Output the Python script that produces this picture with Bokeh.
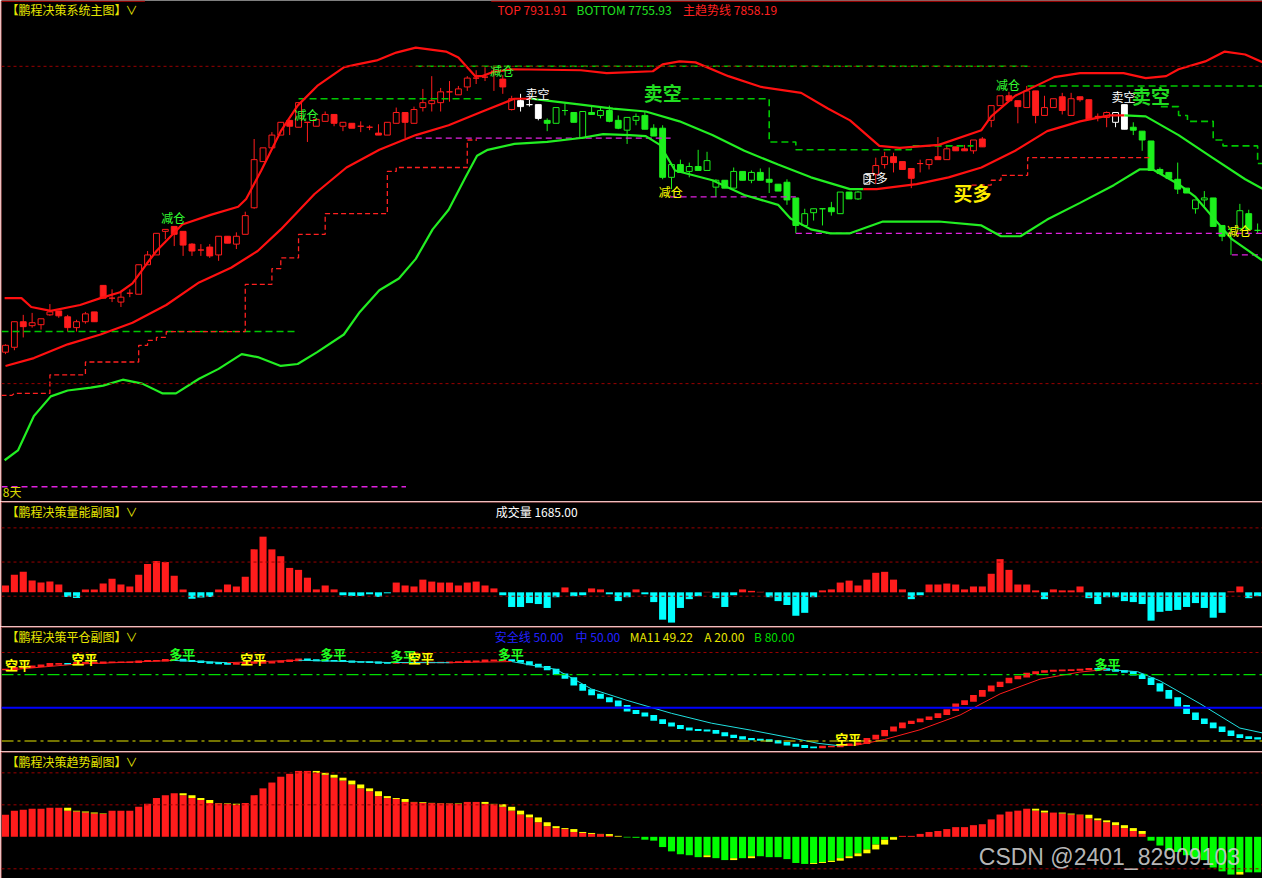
from bokeh.plotting import figure
from bokeh.layouts import column
from bokeh.models import Range1d, Span, Label
from bokeh.embed import file_html
from bokeh.resources import INLINE

# ---------------- data ----------------
N = 142
IDX = list(range(N))

O = [7642,7647,7673,7669,7670,7680,7684,7678,7667,7673,
     7683,7710,7697,7693,7702,7701,7731,7741,7765,7770,
     7765,7752,7746,7749,7741,7760,7752,7762,7789,7836,
     7850,7863,7878,7871,7876,7872,7877,7884,7872,7875,
     7872,7871,7865,7863,7875,7886,7875,7891,7895,7896,
     7907,7904,7912,7921,7922,7928,7920,7889,7898,7894,
     7894,7878,7875,7888,7886,7860,7886,7883,7888,7878,
     7868,7878,7883,7870,7870,7820,7833,7826,7831,7827,
     7810,7817,7809,7826,7817,7825,7818,7813,7815,7799,
     7771,7784,7788,7789,7783,7805,7798,7813,7823,7833,
     7841,7836,7829,7834,7833,7841,7838,7851,7849,7847,
     7859,7878,7893,7903,7898,7891,7908,7883,7891,7902,
     7883,7902,7899,7882,7881,7876,7894,7871,7867,7857,
     7828,7825,7818,7809,7788,7797,7799,7771,7767,7768,
     7783,7766]
H = [7650,7673,7680,7682,7676,7691,7684,7680,7675,7683,
     7683,7710,7706,7703,7706,7731,7745,7763,7767,7770,
     7765,7753,7752,7752,7760,7760,7764,7785,7859,7850,
     7866,7876,7878,7896,7876,7879,7887,7884,7876,7875,
     7877,7873,7874,7876,7891,7886,7892,7910,7923,7911,
     7918,7913,7923,7929,7932,7932,7924,7903,7905,7902,
     7894,7880,7891,7895,7886,7887,7893,7892,7893,7883,
     7881,7885,7887,7874,7873,7833,7838,7835,7848,7846,
     7818,7817,7830,7826,7827,7829,7830,7813,7818,7799,
     7788,7788,7788,7795,7805,7805,7806,7823,7840,7846,
     7845,7836,7829,7838,7838,7861,7853,7851,7853,7858,
     7861,7893,7903,7907,7898,7913,7908,7903,7900,7906,
     7906,7902,7899,7885,7887,7886,7894,7876,7867,7857,
     7830,7825,7835,7809,7797,7806,7799,7771,7767,7793,
     7787,7773]
L = [7640,7644,7657,7667,7665,7679,7677,7663,7663,7671,
     7673,7697,7693,7688,7698,7701,7731,7741,7757,7750,
     7740,7740,7740,7738,7735,7753,7747,7762,7788,7836,
     7850,7863,7863,7871,7856,7872,7877,7872,7867,7870,
     7866,7868,7863,7863,7875,7860,7875,7887,7887,7887,
     7897,7904,7908,7915,7918,7908,7905,7888,7887,7892,
     7878,7867,7875,7883,7876,7859,7884,7880,7876,7869,
     7854,7873,7869,7862,7818,7808,7825,7820,7827,7827,
     7800,7809,7809,7817,7814,7817,7804,7806,7792,7763,
     7771,7776,7771,7781,7783,7798,7797,7813,7813,7829,
     7825,7828,7809,7825,7828,7838,7838,7847,7847,7844,
     7851,7871,7893,7898,7875,7891,7875,7883,7891,7884,
     7883,7897,7879,7877,7871,7871,7869,7863,7847,7827,
     7824,7819,7803,7804,7783,7789,7770,7755,7741,7768,
     7767,7763]
C = [7649,7673,7668,7672,7676,7683,7679,7667,7673,7681,
     7673,7697,7697,7698,7702,7731,7741,7763,7767,7762,
     7751,7745,7746,7740,7760,7753,7760,7781,7838,7850,
     7863,7876,7872,7896,7876,7879,7884,7875,7876,7870,
     7872,7871,7863,7876,7886,7876,7889,7896,7898,7907,
     7907,7910,7921,7921,7922,7928,7912,7900,7892,7894,
     7880,7875,7891,7888,7876,7887,7884,7888,7877,7870,
     7881,7882,7869,7862,7820,7833,7825,7831,7827,7837,
     7817,7809,7826,7817,7825,7817,7815,7806,7797,7771,
     7783,7788,7788,7785,7805,7798,7805,7823,7832,7841,
     7835,7828,7819,7834,7838,7838,7849,7847,7847,7858,
     7851,7893,7903,7898,7892,7908,7883,7891,7900,7888,
     7900,7899,7879,7882,7886,7886,7869,7868,7858,7827,
     7824,7819,7808,7804,7797,7799,7770,7760,7767,7786,
     7767,7766]
# candle state: r = long trend, g = short trend, w = signal bar
CANDLE_STATE = "r" * 58 + "w" * 3 + "g" * 36 + "w" + "r" * 27 + "w" * 2 + "g" * 15

UB_X = [-0.1,1.8,2.9,5.1,8.4,10.7,12.9,14.3,15.9,17,19.9,23.2,26.2,27.1,28.8,31,32.9,35.1,38.1,39.6,
        41.8,44,46.2,49.6,51,52.9,53.7,54.8,57,64.8,67.7,72.9,74,75.9,77.7,81.4,85.1,89.6,92.6,95.1,
        98.4,100.7,105.1,109.9,111,113.7,118.1,121,125.9,128.4,130.7,132.1,135.1,137.3,139.6,141.6]
UB_Y = [7697,7697,7688,7684,7690,7697,7703,7712,7732,7745,7772,7782,7790,7798,7827,7867,7893,7913,7932,7935,
        7939,7947,7952,7948,7942,7923,7923,7927,7930,7929,7926,7928,7935,7938,7937,7923,7912,7906,7890,7878,
        7852,7850,7853,7868,7882,7903,7922,7926,7926,7921,7923,7930,7938,7948,7945,7937]

MID_X = [0,3.2,7,10.7,14.3,18.1,21.8,25.4,28.4,31,34.8,38.4,42.1,46.2,49.9,53.7,57.3,59.2,61,64.8,
         68.4,72.1,75.9,79.6,83.2,87,90.7,95.1,96.6,98.1,102.6,106.2,109.9,113.7,117.3,121,124.3,126,128.4,132.1,
         135.9,139.6,141.6]
MID_Y = [7628,7636,7650,7660,7672,7690,7713,7728,7745,7767,7803,7830,7848,7863,7873,7887,7900,7900,7898,7894,
         7890,7887,7877,7863,7847,7833,7820,7808,7808,7808,7813,7820,7830,7847,7867,7877,7883,7883,7882,7863,
         7840,7818,7808]
MID_STATE = ["r"] * 17 + ["g"] * 11 + ["r"] * 9 + ["g"] * 6

LB_X = [-0.1,1.4,3.2,5.1,7,9.6,11,13.2,15.4,17.7,19.2,21.8,24,26.6,28.4,31,32.9,35.1,38.1,39.9,
        42.1,44.3,46.2,48.1,49.9,51.8,53.1,54.3,57.3,61,64.8,67.3,70.3,72.1,73.7,75.4,79.6,83.2,87,88.4,
        90.7,92.9,95.1,98.8,105.1,109.9,112.1,114.3,117.3,121,124.8,127.7,129.2,132.1,134,135.9,138.1,141.6]
LB_Y = [7532,7542,7577,7597,7603,7606,7608,7614,7610,7600,7600,7615,7625,7640,7637,7628,7630,7642,7660,7683,
        7705,7717,7737,7767,7787,7820,7842,7848,7854,7856,7860,7864,7863,7862,7853,7827,7817,7802,7792,7778,
        7767,7763,7763,7775,7775,7771,7760,7760,7777,7794,7812,7828,7828,7813,7800,7780,7757,7735]

GREEN_STEPS = [
    ([-0.45, 33], [7663, 7663]),
    ([33, 54], [7900, 7900]),
    ([46.2, 115.1], [7933, 7933]),
    ([74.9, 86, 86, 89, 89, 102, 102, 109], [7900, 7900, 7856, 7856, 7848, 7848, 7852, 7852]),
    ([115.1, 141.55], [7913, 7913]),
    ([130.1, 132.1, 132.1, 133.1, 133.1, 136, 136, 137.1, 137.1, 141, 141, 141.55],
     [7892, 7892, 7883, 7883, 7877, 7877, 7858, 7858, 7852, 7852, 7834, 7834]),
]
RED_STEPS = [
    ([-0.45, 0.7, 1, 5, 5, 9, 9, 15, 15, 16, 16, 17, 17, 18.1, 18.1, 27, 27, 30, 30, 31,
      31, 33, 33, 36, 36, 43, 43, 44, 44, 52, 52, 53.1],
     [7598, 7598, 7600, 7600, 7619, 7619, 7632, 7632, 7649, 7649, 7654, 7654, 7657, 7657, 7663, 7663, 7711, 7711, 7727, 7727,
      7738, 7738, 7762, 7762, 7783, 7783, 7826, 7826, 7830, 7830, 7858, 7858]),
    ([108.8, 111, 111, 112.1, 112.1, 115.1, 115.1, 129], [7812, 7812, 7817, 7817, 7822, 7822, 7840, 7840]),
]
MAGENTA_STEPS = [
    ([46.2, 74.9], [7860, 7860]),
    ([74.9, 89], [7800, 7800]),
    ([89, 141.55], [7763, 7763]),
    ([138.1, 141.55], [7741, 7741]),
    ([-0.45, 45.1], [7505, 7505]),
]
MAIN_GRID = [7933, 7610]

SIGNALS = [  # text, bar, price, color, size, bold
    ("减仓", 18.9, 7779, "#33ff33", 12, False),
    ("减仓", 33.9, 7884, "#33ff33", 12, False),
    ("减仓", 55.9, 7929, "#33ff33", 12, False),
    ("卖空", 59.9, 7905, "#ffffff", 12, False),
    ("卖空", 74.0, 7906, "#22dd22", 19, True),
    ("减仓", 74.9, 7806, "#ffff00", 12, False),
    ("买多", 98.0, 7820, "#ffffff", 12, False),
    ("买多", 108.9, 7805, "#ffee00", 19, True),
    ("减仓", 112.9, 7914, "#33ff33", 12, False),
    ("卖空", 125.9, 7902, "#ffffff", 12, False),
    ("卖空", 129.0, 7903, "#22dd22", 19, True),
    ("减仓", 138.9, 7766, "#ffff00", 12, False),
]

VOL = [350, 900, 1050, 600, 500, 550, 400, -235, -285, 150,
       150, 450, 700, 400, 300, 900, 1450, 1600, 1550, 850,
       150, -335, -265, -235, 150, 400, 300, 800, 2200, 2850,
       2200, 1850, 1250, 1150, 750, 150, 350, 150, -150, -185,
       -185, -100, -235, -50, 500, 350, 300, 650, 550, 500,
       500, 350, 500, 550, 350, 200, -150, -750, -750, -550,
       -600, -800, -250, 250, -200, -150, 200, 150, -100, -450, -250,
       150, -100, -500, -1400, -1550, -800, -350, -200, 25, -300,
       -750, -150, 150, 75, 25, -250, -450, -650, -1200, -1050,
       -250, 100, 150, 500, 600, 350, 650, 1000, 1050, 650,
       150, -350, -150, 400, 400, 450, 400, 150, 300, 300,
       950, 1700, 1150, 400, 400, 100, -350, 150, 100, 100,
       300, -300, -600, -250, -250, -450, -500, -600, -1450, -1000,
       -950, -900, -750, -550, -800, -1300, -1050, 50, 300, -300, -200]
VOL_GRID = [3300, 1550, -200]

PC = [84.7, 86.2, 86.7, 87.6, 88.5, 89.7, 89.7, 89.6, 90.6, 90.6,
      90.6, 91.1, 91.1, 91.1, 91.1, 92.0, 92.6, 92.6, 93.5, 93.6,
      92.6, 92.0, 91.1, 90.6, 90.0, 89.7, 90.1, 90.6, 90.6, 90.7,
      91.5, 92.0, 92.9, 93.8, 93.2, 92.9, 92.6, 92.5, 92.0, 91.5,
      91.4, 91.1, 90.6, 90.5, 90.7, 90.8, 90.9, 91.0, 91.0, 91.0,
      91.1, 91.3, 92.0, 92.1, 92.9, 93.0, 93.1, 92.6, 91.5, 89.1,
      87.1, 84.7, 80.3, 77.0, 70.8, 66.1, 62.0, 58.8, 55.8, 51.8,
      47.3, 45.0, 42.9, 39.0, 36.1, 33.8, 31.5, 30.2, 29.7, 29.3,
      27.3, 24.9, 23.5, 22.0, 21.4, 20.9, 20.0, 18.5, 16.7, 15.6,
      14.3, 14.2, 15.0, 15.1, 16.1, 17.0, 17.9, 22.0, 24.9, 29.3,
      32.3, 36.1, 37.6, 39.7, 41.4, 44.3, 47.9, 53.2, 56.2, 60.8,
      65.5, 69.4, 72.9, 76.5, 78.2, 81.1, 82.3, 83.2, 83.8, 83.9,
      84.1, 84.7, 85.3, 85.0, 84.1, 83.2, 82.3, 80.0, 76.7, 71.4,
      65.5, 58.8, 51.8, 45.0, 39.7, 36.1, 32.3, 28.8, 25.3, 23.5,
      22.6, 22.0]
MA_X = [0, 8, 19, 25, 33, 43, 50, 57, 62, 64, 66, 70, 75, 79.5, 84, 89, 91.5, 94, 96, 99,
        103, 107.5, 112, 116.5, 121, 124, 127.5, 130, 134.5, 139, 141.55]
MA_V = [84.0, 89.5, 92.8, 90.8, 93.0, 91.0, 90.8, 91.8, 84.7, 75.9, 67.0, 56.7, 45.0, 36.1, 29.7, 22.0, 17.9, 15.6, 16.5, 21.4,
        30.2, 43.5, 62.6, 75.9, 82.3, 84.7, 82.6, 74.4, 53.8, 31.7, 27.3]
PC_LEVELS = {"B": 80, "MID": 50, "A": 20, "TOP": 100}
PC_SIGNALS = [
    ("空平", 1.4, 89.1, "#ffff00"), ("空平", 8.9, 94.8, "#ffff00"), ("多平", 19.9, 99.2, "#22ff22"),
    ("空平", 27.9, 94.8, "#ffff00"), ("多平", 36.9, 98.8, "#22ff22"), ("多平", 44.8, 97.0, "#22ff22"),
    ("空平", 46.8, 95.3, "#ffff00"), ("多平", 56.9, 98.8, "#22ff22"), ("空平", 94.9, 22.0, "#ffff00"),
    ("多平", 124.1, 90.4, "#22ff22"),
]

TR = [0.687, 0.818, 0.848, 0.879, 0.879, 0.909, 0.909, 0.818, 0.788, 0.758,
      0.727, 0.717, 0.818, 0.818, 0.818, 0.939, 1.03, 1.212, 1.303, 1.364,
      1.303, 1.212, 1.152, 1.061, 1.05, 1.03, 1.0, 1.061, 1.303, 1.515,
      1.697, 1.879, 1.97, 2.06, 2.06, 2.0, 1.939, 1.848, 1.758, 1.636,
      1.515, 1.424, 1.273, 1.212, 1.182, 1.091, 1.085, 1.061, 1.055, 1.05,
      1.045, 1.03, 1.091, 1.091, 1.03, 1.02, 0.939, 0.818, 0.697, 0.606,
      0.455, 0.333, 0.273, 0.242, 0.152, 0.121, 0.091, 0.085, 0.03, 0.005,
      -0.02, -0.03, -0.09, -0.12, -0.32, -0.455, -0.545, -0.576, -0.636, -0.576,
      -0.667, -0.727, -0.667, -0.667, -0.606, -0.606, -0.636, -0.636, -0.697, -0.818,
      -0.848, -0.818, -0.788, -0.747, -0.667, -0.606, -0.515, -0.394, -0.242, -0.091,
      -0.01, 0.03, 0.03, 0.091, 0.152, 0.182, 0.242, 0.303, 0.303, 0.364,
      0.394, 0.545, 0.697, 0.788, 0.818, 0.879, 0.818, 0.758, 0.758, 0.727,
      0.697, 0.69, 0.576, 0.515, 0.455, 0.364, 0.273, 0.182, 0.091, -0.12,
      -0.273, -0.424, -0.475, -0.576, -0.677, -0.727, -0.96, -1.08, -1.18, -1.10,
      -1.11, -1.11]
TR_GRID = [2, 1, -1]

# ---------------- style ----------------
W = 1262
XR0, XR1 = -0.45, 141.55
BG = "#000000"
BORDER = "#c00000"
GRIDC = "#9a0000"
CJK = "Noto Sans CJK SC"
TITLE = "#e6e600"
RED = "#ff1c1c"
GREEN = "#1cf01c"
CYAN = "#00ffff"
YEL = "#ffff00"
CANDLE_COL = {"r": RED, "g": GREEN, "w": "#ffffff"}
LINE_COL = {"r": "#ff1010", "g": "#22ee22"}


def make_fig(h, y0, y1, top):
    p = figure(width=W, height=h, x_range=Range1d(XR0, XR1), y_range=Range1d(y0, y1),
               x_axis_location=None, y_axis_location=None, toolbar_location=None,
               output_backend="svg", background_fill_color=BG, border_fill_color=BORDER,
               min_border=0, min_border_left=1, min_border_top=top,
               min_border_right=0, min_border_bottom=0, outline_line_color=None)
    p.xgrid.visible = False
    p.ygrid.visible = False
    return p


def add_text(p, x, y, text, color, size=12, bold=False, align="left", font=CJK, alpha=1.0):
    p.add_layout(Label(x=x, y=y, text=text, text_color=color, text_alpha=alpha,
                       text_font=font, text_font_size=f"{size}px",
                       text_font_style="bold" if bold else "normal",
                       text_align=align, text_baseline="middle"))


def grid(p, levels, color=GRIDC, dash="3 3", width=1):
    for v in levels:
        p.add_layout(Span(location=v, dimension="width", line_color=color,
                          line_dash=dash, line_width=width))


def title(p, y, text):
    add_text(p, 0.1, y, text, TITLE, 12)
    add_text(p, 14.2, y, "∨", TITLE, 12, align="center")


# ---------------- main panel ----------------
pm = make_fig(501, 7490, 8000, 0)
pm.segment(x0=[-0.45, 54.7], y0=[7999.4, 7999.4], x1=[15.7, XR1], y1=[7999.4, 7999.4],
           line_color=BORDER, line_width=1.2)
grid(pm, MAIN_GRID)

ccol = [CANDLE_COL[s] for s in CANDLE_STATE]
pm.segment(x0=IDX, y0=L, x1=IDX, y1=H, line_color=ccol, line_width=1)
tops = [max(o, c) for o, c in zip(O, C)]
bots = [min(o, c) for o, c in zip(O, C)]
fills = [BG if c > o else col for o, c, col in zip(O, C, ccol)]
pm.quad(left=[i - 0.33 for i in IDX], right=[i + 0.33 for i in IDX], top=tops, bottom=bots,
        fill_color=fills, line_color=ccol, line_width=1)

for xs, ys in GREEN_STEPS:
    pm.line(xs, ys, line_color="#00c800", line_dash="7 4", line_width=1.6)
for xs, ys in RED_STEPS:
    pm.line(xs, ys, line_color="#ff2020", line_dash="5 3", line_width=1.3)
for xs, ys in MAGENTA_STEPS:
    pm.line(xs, ys, line_color="#e020e0", line_dash="6 4", line_width=1.3)

pm.line(UB_X, UB_Y, line_color="#ff1010", line_width=2.2)
pm.line(LB_X, LB_Y, line_color="#22ee22", line_width=2.2)
start = 0
for k in range(1, len(MID_X)):
    if k == len(MID_X) - 1 or MID_STATE[k] != MID_STATE[start]:
        pm.line(MID_X[start:k + 1], MID_Y[start:k + 1], line_color=LINE_COL[MID_STATE[start]], line_width=2.2)
        start = k

for text, x, y, color, size, bold in SIGNALS:
    add_text(pm, x, y, text, color, size, bold, align="center")

title(pm, 7991, "【鹏程决策系统主图】")
add_text(pm, 55.4, 7991, "TOP 7931.91", "#ff2020")
add_text(pm, 64.3, 7991, "BOTTOM 7755.93", "#20e020")
add_text(pm, 76.3, 7991, "主趋势线 7858.19", "#ff2020")
add_text(pm, -0.3, 7500, "8天", "#d8d800")

# ---------------- volume panel ----------------
pv = make_fig(125, -1750, 4600, 1)
grid(pv, VOL_GRID)
pv.vbar(x=IDX, top=VOL, bottom=0, width=0.8,
        fill_color=[RED if v > 0 else CYAN for v in VOL], line_color=None)
title(pv, 4150, "【鹏程决策量能副图】")
add_text(pv, 55.2, 4150, "成交量 1685.00", "#ffffff")

# ---------------- 平仓 panel ----------------
pp = make_fig(125, 10.5, 122.6, 1)
grid(pp, [PC_LEVELS["TOP"]])
grid(pp, [PC_LEVELS["B"]], color="#00dd00", dash="12 4 3 4", width=1.2)
grid(pp, [PC_LEVELS["MID"]], color="#0000ff", dash="solid", width=2)
grid(pp, [PC_LEVELS["A"]], color="#e6e600", dash="12 4 3 4", width=1.2)
prev = [PC[0]] + PC[:-1]
pp.quad(left=[i - 0.38 for i in IDX], right=[i + 0.38 for i in IDX],
        top=[max(a, b) + 0.7 for a, b in zip(PC, prev)],
        bottom=[min(a, b) - 0.7 for a, b in zip(PC, prev)],
        fill_color=[RED if a >= b else CYAN for a, b in zip(PC, prev)], line_color=None)
pp.segment(x0=MA_X[:-1], y0=MA_V[:-1], x1=MA_X[1:], y1=MA_V[1:],
           line_color=[RED if b >= a else "#20e0e0" for a, b in zip(MA_V[:-1], MA_V[1:])], line_width=1)
for text, x, y, color in PC_SIGNALS:
    add_text(pp, x, y, text, color, 13, True, align="center")
title(pp, 114.7, "【鹏程决策平仓副图】")
add_text(pp, 55.1, 114.7, "安全线 50.00", "#2222ff")
add_text(pp, 64.2, 114.7, "中 50.00", "#2222ff")
add_text(pp, 70.3, 114.7, "MA11 49.22", "#e6e600")
add_text(pp, 78.7, 114.7, "A 20.00", "#e6e600")
add_text(pp, 84.3, 114.7, "B 80.00", "#00dd00")

# ---------------- trend panel ----------------
pt = make_fig(127, -1.303, 2.636, 1)
grid(pt, TR_GRID)
pt.vbar(x=IDX, top=TR, bottom=0, width=0.8,
        fill_color=[RED if v >= 0 else "#00ff00" for v in TR], line_color=None)
cap_x, cap_t, cap_b = [], [], []
for i in range(1, N):
    a, b = TR[i - 1], TR[i]
    if b >= 0 and a > b:
        cap_x.append(i); cap_t.append(a); cap_b.append(b)
    elif b < 0 and a < b:
        cap_x.append(i); cap_t.append(b); cap_b.append(a)
pt.vbar(x=cap_x, top=cap_t, bottom=cap_b, width=0.8, fill_color=YEL, line_color=None)
title(pt, 2.364, "【鹏程决策趋势副图】")
add_text(pt, 109.6, -0.64, "CSDN @2401_82909103", "#cfcfcf", 23, font="Liberation Sans", alpha=0.9)

layout = column(pm, pv, pp, pt, spacing=0)
open("out.html", "w").write(file_html(layout, INLINE))
